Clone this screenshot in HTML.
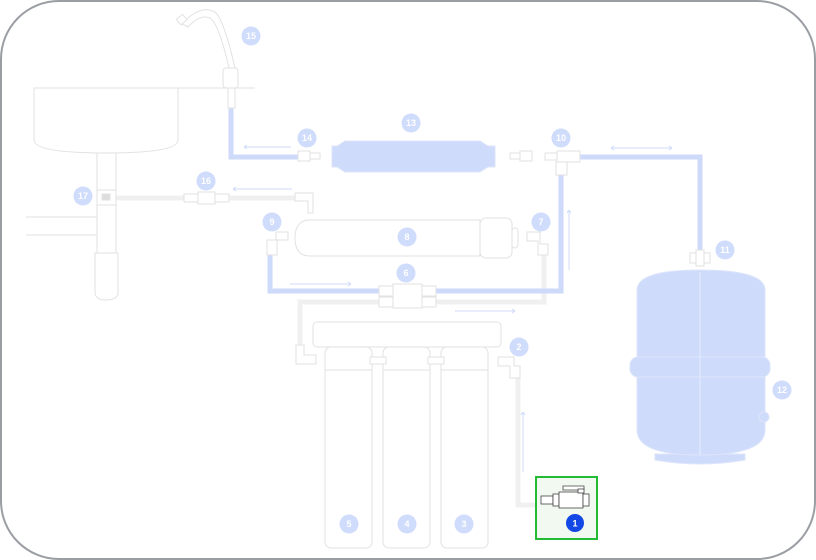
<!DOCTYPE html>
<html><head><meta charset="utf-8"><style>
html,body{margin:0;padding:0;background:#fff;width:816px;height:560px;overflow:hidden}
svg{display:block}
text{font-family:"Liberation Sans",sans-serif;font-weight:bold;font-size:9px;fill:#fff;text-anchor:middle}
</style></head><body>
<svg width="816" height="560" viewBox="0 0 816 560" xmlns="http://www.w3.org/2000/svg">
<rect x="1" y="1" width="814" height="558" rx="58" fill="#fff" stroke="#9a9ea3" stroke-width="2"/>
<g fill="none" stroke-linecap="square">
<!-- gray pipes -->
<path d="M108 198 H305" stroke="#f0f0f0" stroke-width="5"/>
<path d="M544 252 V302 H300 V345" stroke="#f0f0f0" stroke-width="5"/>
<path d="M518 378 V505 H540" stroke="#f0f0f0" stroke-width="5"/>
<!-- blue pipes -->
<path d="M231 108 V157 H298" stroke="#cddafa" stroke-width="5"/>
<path d="M583 157 H700 V254" stroke="#cddafa" stroke-width="5"/>
<path d="M561 175 V291 H437" stroke="#cddafa" stroke-width="5"/>
<path d="M270 254 V291 H380" stroke="#cddafa" stroke-width="5"/>
</g>
<!-- sink -->
<g fill="#fff" stroke="#e2e2e2" stroke-width="1">
<path d="M34 88 H178 V140 Q178 153 106 153 Q34 153 34 140 Z"/>
<line x1="178" y1="88" x2="255" y2="88"/>
<rect x="97" y="153" width="19" height="100"/>
<path d="M95 253 H118 V292 Q118 300 106 300 Q95 300 95 292 Z"/>
<polyline points="26,217 97,217" fill="none"/>
<polyline points="26,235 97,235" fill="none"/>
<rect x="97" y="190" width="19" height="15"/>
<rect x="102" y="194" width="8" height="6" fill="#ddd"/>
<!-- faucet -->
<path d="M182 24 Q200 4 215 12 Q224 20 235 68 L229 68 Q219 24 210 18 Q200 14 188 27 Z"/>
<rect x="178" y="16" width="8" height="7" transform="rotate(-40 182 20)"/>
<rect x="223" y="68" width="15" height="20" rx="3"/>
<rect x="228" y="88" width="7" height="20"/>
<!-- fittings -->
<rect x="298" y="151" width="12" height="10"/><rect x="310" y="153" width="10" height="6"/>
<rect x="510" y="153" width="10" height="6"/><rect x="520" y="151" width="12" height="10"/>
<rect x="545" y="153" width="12" height="7"/><rect x="557" y="151" width="23" height="11"/>
<rect x="556" y="162" width="11" height="13"/>
<rect x="690" y="253" width="20" height="10"/><rect x="696" y="250" width="8" height="16"/>
<rect x="184" y="194" width="14" height="8"/><rect x="198" y="192" width="17" height="12"/><rect x="215" y="194" width="14" height="8"/>
<path d="M295 193 H313 V213 H308 V201 H295 Z"/>
<path d="M276 232 H288 V240 H277 V255 H267 V240 H276 Z"/>
<path d="M527 232 H540 V244 H548 V255 H538 V241 H527 Z"/>
<path d="M296 345 H304 V355 H316 V364 H296 Z"/>
<path d="M498 357 H514 V366 H520 V378 H510 V366 H498 Z"/>
<!-- filter 8 -->
<path d="M310 220 H480 V256 H310 Q295 256 295 238 Q295 220 310 220 Z"/>
<rect x="480" y="218" width="32" height="40" rx="6"/>
<rect x="512" y="228" width="6" height="20" rx="3"/>
<!-- fitting 6 -->
<rect x="393" y="284" width="29" height="24"/>
<rect x="379" y="286" width="14" height="10"/><rect x="379" y="297" width="14" height="10"/>
<rect x="422" y="286" width="14" height="10"/><rect x="422" y="297" width="14" height="10"/>
<!-- housings -->
<rect x="313" y="322" width="188" height="25" rx="4"/>
<rect x="325" y="347" width="47" height="201" rx="6"/>
<rect x="383" y="347" width="47" height="201" rx="6"/>
<rect x="441" y="347" width="47" height="201" rx="6"/>
<line x1="325" y1="370" x2="372" y2="370"/><line x1="383" y1="370" x2="430" y2="370"/><line x1="441" y1="370" x2="488" y2="370"/>
<rect x="370" y="357" width="16" height="7"/><rect x="428" y="357" width="16" height="7"/>
</g>
<!-- filter 13 -->
<path d="M345 141 H480 L488 146 H495 V167 H488 L480 172 H345 L337 167 H332 V146 H337 Z" fill="#cedbfa" stroke="#dfe6fa"/>
<!-- tank 12 -->
<g fill="#cedbfa" stroke="#dde5fb">
<path d="M655 454 H745 V460 Q700 468 655 460 Z"/>
<path d="M637 290 Q637 270 700 270 Q765 270 765 290 V430 Q765 455 700 455 Q637 455 637 430 Z"/>
<rect x="630" y="357" width="140" height="20" rx="8"/>
<circle cx="764" cy="417" r="5"/>
</g>
<line x1="700" y1="272" x2="700" y2="455" stroke="#e6ecfc"/>
<!-- arrows -->
<g stroke="#cfdbfa" stroke-width="1" fill="none">
<path d="M244 147 H291 M244 147 l3 -2 M244 147 l3 2"/>
<path d="M233 189 H292 M233 189 l3 -2 M233 189 l3 2"/>
<path d="M290 284 H351 M351 284 l-3 -2 M351 284 l-3 2"/>
<path d="M455 311 H515 M515 311 l-3 -2 M515 311 l-3 2"/>
<path d="M523 412 V472 M523 412 l-2 3 M523 412 l2 3"/>
<path d="M569 210 V270 M569 210 l-2 3 M569 210 l2 3"/>
<path d="M611 148 H672 M611 148 l3 -2 M611 148 l3 2 M672 148 l-3 -2 M672 148 l-3 2"/>
</g>
<!-- valve 1 box -->
<rect x="536" y="477" width="61" height="62" fill="#f1f9f1" stroke="#22bb33" stroke-width="2"/>
<g fill="#fff" stroke="#444" stroke-width="0.8">
<path d="M563 486 H584 V490 H563 Z"/>
<rect x="541" y="496" width="12" height="8"/><rect x="553" y="494" width="6" height="12"/>
<rect x="559" y="492" width="24" height="16"/><rect x="583" y="494" width="6" height="12"/>
<rect x="578" y="489" width="6" height="4"/>
</g>
<circle cx="575" cy="523" r="9" fill="#1448e6"/><text x="575" y="526.5">1</text>
<!-- badges -->
<g fill="#d0dcfb">
<circle cx="251" cy="36" r="9.5"/><circle cx="307" cy="138" r="9.5"/><circle cx="411" cy="123" r="9.5"/>
<circle cx="561" cy="138" r="9.5"/><circle cx="206" cy="181" r="9.5"/><circle cx="83" cy="196" r="9.5"/>
<circle cx="272" cy="222" r="9.5"/><circle cx="541" cy="222" r="9.5"/><circle cx="407" cy="237" r="9.5"/>
<circle cx="406" cy="273" r="9.5"/><circle cx="725" cy="250" r="9.5"/><circle cx="519" cy="347" r="9.5"/>
<circle cx="782" cy="390" r="9.5"/><circle cx="349" cy="524" r="9.5"/><circle cx="407" cy="524" r="9.5"/><circle cx="464" cy="524" r="9.5"/>
</g>
<text x="251" y="39">15</text><text x="307" y="141">14</text><text x="411" y="126">13</text>
<text x="561" y="141">10</text><text x="206" y="184">16</text><text x="83" y="199">17</text>
<text x="272" y="225">9</text><text x="541" y="225">7</text><text x="407" y="240">8</text>
<text x="406" y="276">6</text><text x="725" y="253">11</text><text x="519" y="350">2</text>
<text x="782" y="393">12</text><text x="349" y="527">5</text><text x="407" y="527">4</text><text x="464" y="527">3</text>
</svg>
</body></html>
